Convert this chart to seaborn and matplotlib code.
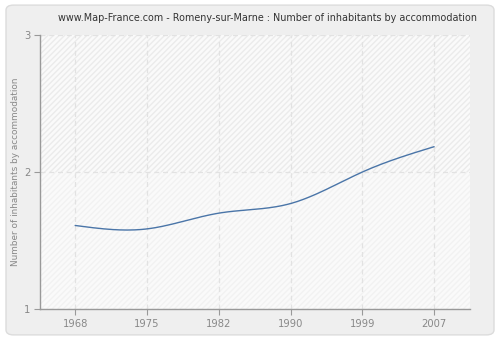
import numpy as np
import pandas as pd
import matplotlib
matplotlib.use("Agg")
import matplotlib.pyplot as plt
from matplotlib.patches import FancyBboxPatch
import seaborn as sns

years = ["1968", "1975", "1982", "1990", "1999", "2007"]
values = [1.61, 1.585, 1.70, 1.77, 2.00, 2.185]
yticks = [1, 2, 3]
title = "www.Map-France.com - Romeny-sur-Marne : Number of inhabitants by accommodation"
ylabel = "Number of inhabitants by accommodation"


def smooth(x, y, n=40):
    # natural cubic spline through the data points (for drawing the smooth curve)
    x = np.asarray(x, float); y = np.asarray(y, float)
    m = len(x); h = np.diff(x)
    A = np.zeros((m, m)); b = np.zeros(m)
    A[0, 0] = A[-1, -1] = 1
    for i in range(1, m - 1):
        A[i, i - 1] = h[i - 1]; A[i, i] = 2 * (h[i - 1] + h[i]); A[i, i + 1] = h[i]
        b[i] = 3 * ((y[i + 1] - y[i]) / h[i] - (y[i] - y[i - 1]) / h[i - 1])
    c = np.linalg.solve(A, b)
    xs, ys = [], []
    for i in range(m - 1):
        t = np.linspace(0, h[i], n, endpoint=(i == m - 2))
        bi = (y[i + 1] - y[i]) / h[i] - h[i] * (2 * c[i] + c[i + 1]) / 3
        di = (c[i + 1] - c[i]) / (3 * h[i])
        xs.append(x[i] + t); ys.append(y[i] + bi * t + c[i] * t ** 2 + di * t ** 3)
    return np.concatenate(xs), np.concatenate(ys)


sns.set_theme(style="white")
plt.rcParams["font.family"] = ["DejaVu Sans"]

fig = plt.figure(figsize=(5, 3.4), dpi=100)
fig.patch.set_facecolor("white")
bg = FancyBboxPatch((0.012, 0.015), 0.976, 0.97,
                    boxstyle="round,pad=0,rounding_size=0.015",
                    transform=fig.transFigure, facecolor="#efefef",
                    edgecolor="#dcdcdc", linewidth=1, zorder=-10)
fig.add_artist(bg)

ax = fig.add_axes([0.08, 0.091, 0.86, 0.806])
ax.set_zorder(5)
ax.set_facecolor("#fafafa")

idx = np.arange(len(years))
sx, sy = smooth(idx, values)
df = pd.DataFrame({"x": sx, "y": sy})

xl = (-0.49, len(years) - 0.5)
# hatched background (stronger in upper half, fainter in lower half)
ax.fill_between(xl, 2, 3, facecolor="none", edgecolor="#ebebeb",
                hatch="//////", linewidth=0, zorder=0)
ax.fill_between(xl, 1, 2, facecolor="none", edgecolor="#f2f2f2",
                hatch="//////", linewidth=0, zorder=0)

sns.lineplot(data=df, x="x", y="y", ax=ax, color="#4a75a8", linewidth=1.0,
             sort=False, estimator=None, zorder=3)

ax.set_xlim(*xl)
ax.set_ylim(1, 3)
ax.set_xticks(idx)
ax.set_xticklabels(years)
ax.set_yticks(yticks)
ax.set_yticklabels([str(t) for t in yticks])
ax.grid(True, color="#e2e2e2", linestyle=(0, (4, 3)), linewidth=0.9)
ax.set_axisbelow(True)

for s in ["top", "right"]:
    ax.spines[s].set_visible(False)
for s in ["left", "bottom"]:
    ax.spines[s].set_color("#999999")
    ax.spines[s].set_linewidth(1)

ax.tick_params(axis="both", which="both", direction="out", length=4, width=0.8,
               color="#999999", labelcolor="#888888", labelsize=7.2,
               bottom=True, left=True, pad=3)
ax.set_xlabel("")
ax.set_ylabel(ylabel, color="#888888", fontsize=6.4)
ax.yaxis.set_label_coords(-0.047, 0.5)
fig.text(0.534, 0.947, title, color="#333333", fontsize=6.9, ha="center", va="center")

fig.savefig("out.png", dpi=100, facecolor=fig.get_facecolor())
